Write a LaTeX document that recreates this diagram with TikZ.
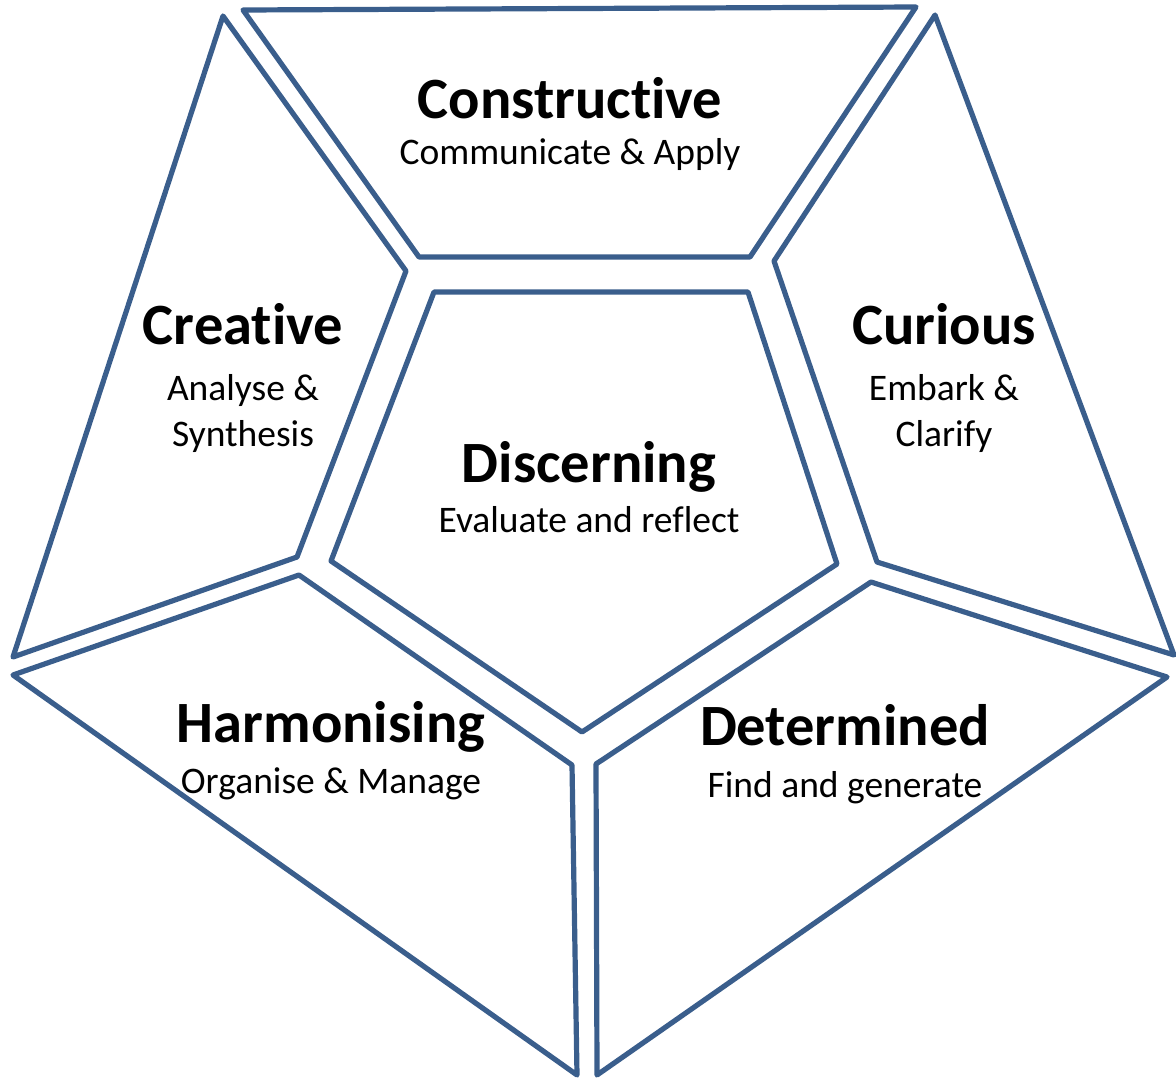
\documentclass[tikz,border=0pt]{standalone}
\usepackage{fontspec}
\setmainfont{Carlito}[Ligatures={NoCommon}]
\definecolor{edge}{RGB}{58,94,140}
\tikzset{
  piece/.style={draw=edge, line width=5.2pt, line join=round},
  ttl/.style={anchor=base, inner sep=0pt, font=\fontsize{58.5}{64}\selectfont\bfseries},
  sub/.style={anchor=base, inner sep=0pt, font=\fontsize{37.5}{46}\selectfont}
}
\begin{document}
\begin{tikzpicture}[x=1pt,y=-1pt]
\useasboundingbox (0,0) rectangle (1176,1077);
% Constructive
\draw[piece] (243,10) -- (916,7) -- (750,257) -- (419,257) -- cycle;
% Creative
\draw[piece] (223,16) -- (406,271) -- (297,557) -- (13,657) -- cycle;
% Curious
\draw[piece] (935,15) -- (1174,655) -- (877,562) -- (774,261) -- cycle;
% Discerning
\draw[piece] (434,292) -- (748,292) -- (837,564) -- (582,732) -- (331,561) -- cycle;
% Harmonising
\draw[piece] (13,675) -- (299,575) -- (572,765) -- (577,1075) -- cycle;
% Determined
\draw[piece] (596,764) -- (871,582) -- (1167,677) -- (597,1075) -- cycle;

\node[ttl] (t1) at (570,118) {Constructive};
\node[sub] (s1) at (570,164) {Communicate \& Apply};
\node[ttl] (t2) at (243,344) {Creative};
\node[sub] (s2a) at (243,400) {Analyse \&};
\node[sub] (s2b) at (243,446) {Synthesis};
\node[ttl] (t3) at (944,344) {Curious};
\node[sub] (s3a) at (944,400) {Embark \&};
\node[sub] (s3b) at (944,446) {Clarify};
\node[ttl] (t4) at (589,482) {Discerning};
\node[sub] (s4) at (589,532) {Evaluate and reflect};
\node[ttl] (t5) at (331,742) {Harmonising};
\node[sub] (s5) at (331,793) {Organise \& Manage};
\node[ttl] (t6) at (845,745) {Determined};
\node[sub] (s6) at (845,797) {Find and generate};
\end{tikzpicture}
\end{document}
